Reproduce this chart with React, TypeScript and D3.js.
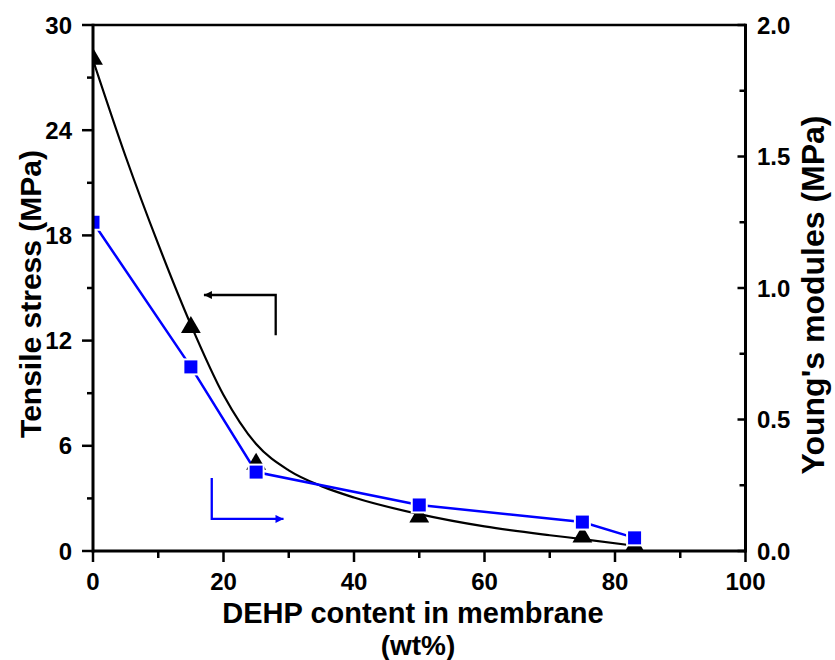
import React from "react";
import * as d3 from "d3";

// ---- data ----
const contentX = [0, 15, 25, 50, 75, 83];
const tensileStress = [28.0, 12.7, 4.9, 1.9, 0.75, 0.22];
const youngsModulus = [1.25, 0.7, 0.3, 0.175, 0.11, 0.05];
// smooth fitted curve
const fitX = [0, 5, 10, 15, 20, 25, 30, 35, 40, 50, 60, 70, 75, 83];
const fitY = [28.0, 22.5, 17.5, 12.9, 8.9, 6.1, 4.6, 3.7, 3.05, 2.1, 1.4, 0.9, 0.68, 0.3];

const xTicks = [0, 20, 40, 60, 80, 100];
const xMinor = [10, 30, 50, 70, 90];
const yLeftTicks = [0, 6, 12, 18, 24, 30];
const yLeftMinor = [3, 9, 15, 21, 27];
const yRightTicks = [0, 0.5, 1.0, 1.5, 2.0];
const yRightMinor = [0.25, 0.75, 1.25, 1.75];

const W = 835, H = 660;
const L = 93, R = 745.5, T = 25, B = 551;
const FONT = "'Liberation Sans', Arial, Helvetica, sans-serif";

export default function App() {
  const x = d3.scaleLinear().domain([0, 100]).range([L, R]);
  const yL = d3.scaleLinear().domain([0, 30]).range([B, T]);
  const yR = d3.scaleLinear().domain([0, 2]).range([B, T]);

  const fitLine = d3
    .line<number>()
    .x((_, i) => x(fitX[i]))
    .y((d) => yL(d))
    .curve(d3.curveMonotoneX)(fitY) as string;

  const blueLine = d3
    .line<number>()
    .x((_, i) => x(contentX[i]))
    .y((d) => yR(d))(youngsModulus) as string;

  const tri = d3.symbol().type(d3.symbolTriangle).size(170)() as string;

  // annotation arrows (data coords)
  const bArrow = { x0: 28.0, yTop: 14.6, yBot: 12.3, tip: 17.0 };
  const uArrow = { x0: 18.2, yTop: 4.16, yBot: 1.83, tip: 29.2 };

  const tick = { stroke: "#000", strokeWidth: 2.5 };

  return (
    <svg width={W} height={H} style={{ position: "absolute", left: 0, top: 0, background: "#fff" }}>
      <defs>
        <clipPath id="plot">
          <rect x={L} y={T} width={R - L} height={B - T} />
        </clipPath>
        <marker id="ahB" viewBox="0 0 10 10" refX="10" refY="5" markerWidth="15" markerHeight="8" markerUnits="userSpaceOnUse" orient="auto">
          <path d="M0,0 L10,5 L0,10 Z" fill="#000" />
        </marker>
        <marker id="ahU" viewBox="0 0 10 10" refX="10" refY="5" markerWidth="15" markerHeight="8" markerUnits="userSpaceOnUse" orient="auto">
          <path d="M0,0 L10,5 L0,10 Z" fill="#0000ff" />
        </marker>
      </defs>

      <g clipPath="url(#plot)">
        <path d={fitLine} fill="none" stroke="#000" strokeWidth={2.2} />
        <path d={blueLine} fill="none" stroke="#0000ff" strokeWidth={2.5} />
        {contentX.map((cx, i) => (
          <path key={"t" + i} d={tri} transform={`translate(${x(cx)},${yL(tensileStress[i]) - 1})`} fill="#000" />
        ))}
        {contentX.map((cx, i) => (
          <rect
            key={"s" + i}
            x={x(cx) - 7.5}
            y={yR(youngsModulus[i]) - 7.5}
            width={15}
            height={15}
            fill="#0000ff"
            stroke="#fff"
            strokeWidth={2}
          />
        ))}
      </g>

      {/* annotation arrows */}
      <path
        d={`M${x(bArrow.x0)},${yL(bArrow.yBot)} L${x(bArrow.x0)},${yL(bArrow.yTop)} L${x(bArrow.tip)},${yL(bArrow.yTop)}`}
        fill="none"
        stroke="#000"
        strokeWidth={2.3}
        markerEnd="url(#ahB)"
      />
      <path
        d={`M${x(uArrow.x0)},${yL(uArrow.yTop)} L${x(uArrow.x0)},${yL(uArrow.yBot)} L${x(uArrow.tip)},${yL(uArrow.yBot)}`}
        fill="none"
        stroke="#0000ff"
        strokeWidth={2.3}
        markerEnd="url(#ahU)"
      />

      {/* axes frame */}
      <line x1={L} y1={T} x2={R} y2={T} stroke="#000" strokeWidth={2.5} />
      <line x1={L} y1={T - 1.25} x2={L} y2={B + 1.5} stroke="#000" strokeWidth={3} />
      <line x1={R} y1={T - 1.25} x2={R} y2={B + 1.5} stroke="#000" strokeWidth={3} />
      <line x1={L} y1={B} x2={R} y2={B} stroke="#000" strokeWidth={3} />

      {/* bottom ticks */}
      {xTicks.map((t) => (
        <g key={"xt" + t}>
          <line x1={x(t)} x2={x(t)} y1={B} y2={B + 11} {...tick} />
          <text x={x(t)} y={590} textAnchor="middle" fontFamily={FONT} fontWeight="bold" fontSize={24}>
            {t}
          </text>
        </g>
      ))}
      {xMinor.map((t) => (
        <line key={"xm" + t} x1={x(t)} x2={x(t)} y1={B} y2={B + 7} {...tick} />
      ))}

      {/* left ticks */}
      {yLeftTicks.map((t) => (
        <g key={"yl" + t}>
          <line x1={L - 11} x2={L} y1={yL(t)} y2={yL(t)} {...tick} />
          <text x={72} y={yL(t) + 8.5} textAnchor="end" fontFamily={FONT} fontWeight="bold" fontSize={24}>
            {t}
          </text>
        </g>
      ))}
      {yLeftMinor.map((t) => (
        <line key={"ylm" + t} x1={L - 6} x2={L} y1={yL(t)} y2={yL(t)} {...tick} />
      ))}

      {/* right ticks (inward) */}
      {yRightTicks.map((t) => (
        <g key={"yr" + t}>
          <line x1={R - 8} x2={R} y1={yR(t)} y2={yR(t)} {...tick} />
          <text x={757} y={yR(t) + 8.5} textAnchor="start" fontFamily={FONT} fontWeight="bold" fontSize={24}>
            {d3.format(".1f")(t)}
          </text>
        </g>
      ))}
      {yRightMinor.map((t) => (
        <line key={"yrm" + t} x1={R - 6} x2={R} y1={yR(t)} y2={yR(t)} {...tick} />
      ))}

      {/* axis titles */}
      <text x={413} y={623} textAnchor="middle" fontFamily={FONT} fontWeight="bold" fontSize={29}>
        DEHP content in membrane
      </text>
      <text x={418} y={655} textAnchor="middle" fontFamily={FONT} fontWeight="bold" fontSize={28}>
        (wt%)
      </text>
      <text
        transform={`translate(41,294) rotate(-90)`}
        textAnchor="middle"
        fontFamily={FONT}
        fontWeight="bold"
        fontSize={30}
      >
        Tensile stress (MPa)
      </text>
      <text
        transform={`translate(824,295) rotate(-90)`}
        textAnchor="middle"
        fontFamily={FONT}
        fontWeight="bold"
        fontSize={32}
      >
        Young's modules (MPa)
      </text>
    </svg>
  );
}
